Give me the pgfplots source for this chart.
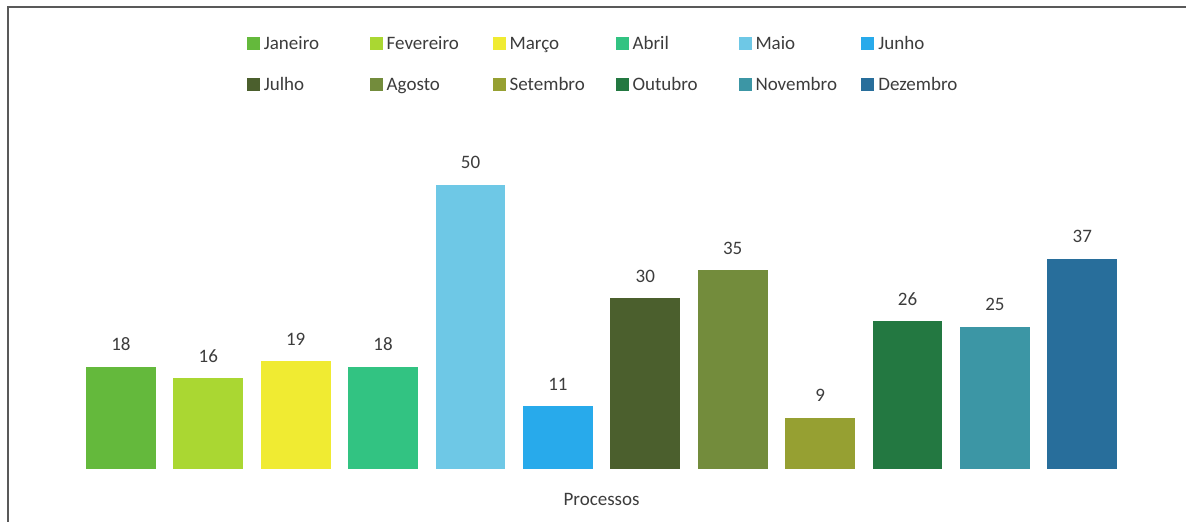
\documentclass[border=0pt]{standalone}
\usepackage{fontspec}
\setmainfont{Carlito}
\usepackage{pgfplots}
\pgfplotsset{compat=1.18}

\definecolor{cJan}{RGB}{100,185,60}
\definecolor{cFev}{RGB}{170,215,50}
\definecolor{cMar}{RGB}{240,235,50}
\definecolor{cAbr}{RGB}{50,195,130}
\definecolor{cMai}{RGB}{110,200,230}
\definecolor{cJun}{RGB}{40,170,235}
\definecolor{cJul}{RGB}{75,95,45}
\definecolor{cAgo}{RGB}{115,140,60}
\definecolor{cSet}{RGB}{150,160,50}
\definecolor{cOut}{RGB}{35,120,65}
\definecolor{cNov}{RGB}{60,150,165}
\definecolor{cDez}{RGB}{40,110,155}
\definecolor{txt}{RGB}{60,60,60}

% fixed-size legend text boxes -> even column pitch and baselines
\newcommand{\lbl}[1]{\raisebox{0pt}[7pt][2.5pt]{\makebox[51pt][l]{#1}}}

\begin{document}
\begin{tikzpicture}
\path (0,0) rectangle (593.5pt,261pt);
\draw[black!65, line width=0.8pt] (4pt,0) -- (4pt,257.5pt) -- (593.5pt,257.5pt);
\begin{axis}[
  at={(34.25pt,26.5pt)}, anchor=south west,
  scale only axis, width=533.5pt, height=142pt,
  xmin=-0.6, xmax=11.6, ymin=0, ymax=50,
  ybar, bar width=35pt, bar shift=0pt,
  axis line style={draw=none}, ticks=none,
  clip=false,
  font=\fontsize{9.5}{11}\selectfont, text=txt,
  /pgf/number format/assume math mode=true,
  xlabel={Processos},
  x label style={at={(axis description cs:0.5,0)}, anchor=center, yshift=-15.5pt},
  nodes near coords,
  every node near coord/.append style={anchor=center, yshift=11pt, text=txt},
  legend columns=6,
  legend image code/.code={\fill[#1] (0pt,-3pt) rectangle (6.5pt,3.5pt);},
  legend style={draw=none, fill=none, inner sep=0pt, outer sep=0pt,
    at={(0.1673,1.539)}, anchor=north west, row sep=8pt,
    /tikz/every even column/.append style={column sep=0pt}},
]
\addplot[fill=cJan, draw=none] coordinates {(0,18)};
\addlegendentry{\lbl{Janeiro}}
\addplot[fill=cFev, draw=none] coordinates {(1,16)};
\addlegendentry{\lbl{Fevereiro}}
\addplot[fill=cMar, draw=none] coordinates {(2,19)};
\addlegendentry{\lbl{Março}}
\addplot[fill=cAbr, draw=none] coordinates {(3,18)};
\addlegendentry{\lbl{Abril}}
\addplot[fill=cMai, draw=none] coordinates {(4,50)};
\addlegendentry{\lbl{Maio}}
\addplot[fill=cJun, draw=none] coordinates {(5,11)};
\addlegendentry{\lbl{Junho}}
\addplot[fill=cJul, draw=none] coordinates {(6,30)};
\addlegendentry{\lbl{Julho}}
\addplot[fill=cAgo, draw=none] coordinates {(7,35)};
\addlegendentry{\lbl{Agosto}}
\addplot[fill=cSet, draw=none] coordinates {(8,9)};
\addlegendentry{\lbl{Setembro}}
\addplot[fill=cOut, draw=none] coordinates {(9,26)};
\addlegendentry{\lbl{Outubro}}
\addplot[fill=cNov, draw=none] coordinates {(10,25)};
\addlegendentry{\lbl{Novembro}}
\addplot[fill=cDez, draw=none] coordinates {(11,37)};
\addlegendentry{\lbl{Dezembro}}
\end{axis}
\end{tikzpicture}
\end{document}
